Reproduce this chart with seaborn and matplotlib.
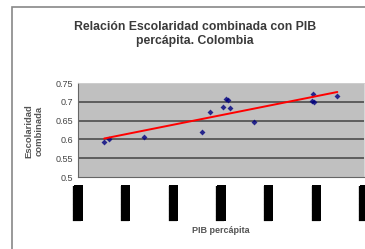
import numpy as np
import pandas as pd
import matplotlib
matplotlib.use("Agg")
import matplotlib.pyplot as plt
import seaborn as sns
from matplotlib.patches import Rectangle

sns.set_theme(style="white")
plt.rcParams['font.family'] = ['Liberation Sans', 'DejaVu Sans']

# PIB percapita (in tick units, real tick labels are unreadable) and escolaridad combinada
pib = [0.55, 0.65, 1.39, 2.60, 2.77, 3.04, 3.11, 3.14, 3.18, 3.70, 4.92, 4.90, 4.95, 5.44]
escolaridad = [0.594, 0.601, 0.607, 0.619, 0.674, 0.685, 0.707, 0.705, 0.683, 0.645, 0.722, 0.703, 0.700, 0.715]
x_ticks = [0, 1, 2, 3, 4, 5, 6]
x_tick_labels = ["██████"] * 7
y_ticks = [0.5, 0.55, 0.6, 0.65, 0.7, 0.75]
y_tick_labels = ["0.5", "0.55", "0.6", "0.65", "0.7", "0.75"]

df = pd.DataFrame({"pib": pib, "esc": escolaridad})

fig = plt.figure(figsize=(3.65, 2.49), dpi=100)
ax = fig.add_axes([78 / 365, 72 / 249, 286 / 365, 94 / 249])
ax.set_facecolor("#c0c0c0")

sns.regplot(data=df, x="pib", y="esc", ax=ax, ci=None, truncate=True,
            marker="D", scatter_kws=dict(color="#000080", s=9, linewidths=0, zorder=3),
            line_kws=dict(color="#ff0000", lw=1.4, zorder=4))

ax.set_xlim(0, 6)
ax.set_ylim(0.5, 0.75)
ax.set_yticks(y_ticks)
ax.set_yticklabels(y_tick_labels, fontsize=6.5, color="#555555")
ax.set_xticks(x_ticks)
ax.set_xticklabels(x_tick_labels, rotation=90, fontsize=5.6, color="black",
                   family="DejaVu Sans")
for lbl in ax.get_xticklabels():
    lbl.set_bbox(dict(facecolor="black", edgecolor="none", pad=0))
ax.tick_params(axis="both", direction="out", length=2, width=0.6, colors="#444444", pad=1.5)
ax.tick_params(axis="x", labelcolor="black", pad=4)
for yv in y_ticks[1:-1]:
    ax.axhline(yv, color="#555555", lw=1.3, zorder=1)
for s in ["top", "right"]:
    ax.spines[s].set_color("#d0d0d0")
    ax.spines[s].set_linewidth(0.6)
for s in ["left", "bottom"]:
    ax.spines[s].set_color("#666666")
    ax.spines[s].set_linewidth(0.8)

ax.set_xlabel("")
ax.set_ylabel("")
fig.text(221 / 365, 1 - 230 / 249, "PIB percápita", ha="center", va="center",
         fontsize=6.5, fontweight="bold", color="#555555")
fig.text(34 / 365, 1 - 131 / 249, "Escolaridad\ncombinada", ha="center", va="center",
         rotation=90, fontsize=6.8, fontweight="bold", color="#555555", linespacing=1.25)
fig.text(195 / 365, 1 - 34 / 249, "Relación Escolaridad combinada con PIB\npercápita. Colombia",
         ha="center", va="center", fontsize=8.8, fontweight="bold", color="#3a3a3a",
         linespacing=1.3)

# outer chart frame
fig.add_artist(Rectangle((12 / 365, -0.1), 1.0, 1 - 7 / 249 + 0.1, transform=fig.transFigure,
                         fill=False, edgecolor="#888888", lw=1.2))

fig.savefig("out.png", dpi=100)
